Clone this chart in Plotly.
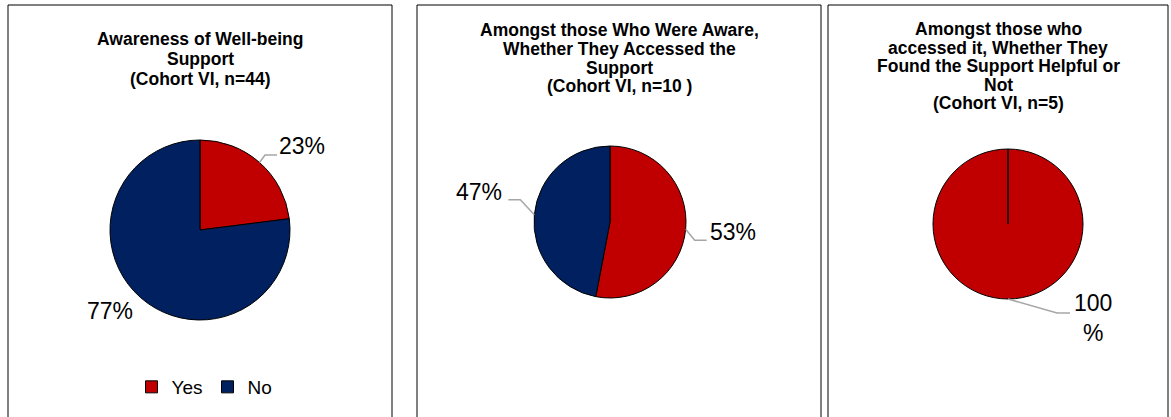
import math
import plotly.graph_objects as go

# ---------------- data ----------------
slice_labels = ["Yes", "No"]
values_aware = [23, 77]        # Awareness of Well-being Support (n=44)
values_accessed = [53, 47]     # Amongst aware, accessed support (n=10)
values_helpful = [100, 0]      # Amongst accessed, found helpful (n=5)

titles = [
    ["Awareness of Well-being", "Support", "(Cohort VI, n=44)"],
    ["Amongst those Who Were Aware,", "Whether They Accessed the", "Support",
     "(Cohort VI, n=10 )"],
    ["Amongst those who", "accessed it, Whether They", "Found the Support Helpful or",
     "Not", "(Cohort VI, n=5)"],
]

# ---------------- styles / layout ----------------
W, H = 1171, 417
FONT = "Liberation Sans, Arial, sans-serif"
RED, NAVY, YELLOW = "#C00000", "#002060", "#FFFF00"
LEADER = "#A6A6A6"

panels = [
    dict(values=values_aware, colors=[RED, NAVY], box=(8, 392),
         pie=(200, 230, 90), title_y=39.5, title_step=19.6, legend=(204.5, 387),
         # per-slice label style: (elbow dx, elbow dy, run, text dx, text dy, wrap)
         lab=[(5.5, -7.5, 12, 25, -9, False), (0, 0, 0, -30.5, 13.5, False)]),
    dict(values=values_accessed, colors=[RED, NAVY], box=(417, 821),
         pie=(610, 222, 76), title_y=30, title_step=18.8, legend=(622.6, 387),
         lab=[(9, 11, 12, 26, -8, False), (-14, -15, -12, -29, -8, False)]),
    dict(values=values_helpful, colors=[RED, YELLOW], box=(828, 1168),
         pie=(1008, 224, 75), title_y=29, title_step=18.6, legend=(1009, 384),
         lab=[(49, 14, 13, 23, 5, True), None]),
]

def px(x):
    return x / W

def py(y):
    return 1 - y / H

fig = go.Figure()
shapes = []
annotations = []

for k, p in enumerate(panels):
    cx, cy, r = p["pie"]
    legend_name = "legend" if k == 0 else f"legend{k + 1}"
    fig.add_trace(go.Pie(
        labels=slice_labels,
        values=p["values"],
        marker=dict(colors=p["colors"], line=dict(color="black", width=1)),
        sort=False,
        direction="clockwise",
        rotation=0,
        textinfo="none",
        domain=dict(x=[px(cx - r), px(cx + r)], y=[py(cy + r), py(cy - r)]),
        legend=legend_name,
        showlegend=True,
    ))

    # panel border
    x0, x1 = p["box"]
    shapes.append(dict(type="rect", xref="paper", yref="paper",
                       x0=px(x0), x1=px(x1), y0=-0.05, y1=py(5),
                       line=dict(color="black", width=1), fillcolor="rgba(0,0,0,0)"))

    # title lines
    tx = (x0 + x1) / 2
    for i, line in enumerate(titles[k]):
        annotations.append(dict(
            text=f"<b>{line}</b>", xref="paper", yref="paper",
            x=px(tx), y=py(p["title_y"] + i * p["title_step"]),
            xanchor="center", yanchor="middle", showarrow=False,
            font=dict(family=FONT, size=17.5, color="black")))

    # data labels with leader lines, positioned from slice mid-angles
    vals = p["values"]
    total = sum(vals)
    cum = 0
    for v, st in zip(vals, p["lab"]):
        frac_mid = (cum + v / 2) / total
        cum += v
        if st is None or v == 0:
            continue
        ang = 2 * math.pi * frac_mid
        ex = cx + r * math.sin(ang)
        ey = cy - r * math.cos(ang)
        edx, edy, run, tdx, tdy, wrap = st
        if run != 0:
            bx, by = ex + edx, ey + edy
            fx = bx + run
            shapes.append(dict(type="path", xref="paper", yref="paper",
                               path=f"M {px(ex)},{py(ey)} L {px(bx)},{py(by)} L {px(fx)},{py(by)}",
                               line=dict(color=LEADER, width=1.5)))
            lx, ly = fx + tdx, by + tdy
        else:
            lx, ly = ex + tdx, ey + tdy
        pct = f"{round(v / total * 100)}%"
        if wrap:
            pct = pct[:-1] + "<br>%"
        annotations.append(dict(
            text=pct, xref="paper", yref="paper", x=px(lx), y=py(ly),
            xanchor="center", yanchor="middle", showarrow=False,
            font=dict(family=FONT, size=23, color="black")))

legend_common = dict(orientation="h", xanchor="center", yanchor="middle",
                     font=dict(family=FONT, size=19, color="black"),
                     bgcolor="rgba(0,0,0,0)", itemclick=False, itemdoubleclick=False)
layout_legends = {}
for k, p in enumerate(panels):
    name = "legend" if k == 0 else f"legend{k + 1}"
    lx, ly = p["legend"]
    layout_legends[name] = dict(legend_common, x=px(lx), y=py(ly))

fig.update_layout(
    width=W, height=H,
    margin=dict(l=0, r=0, t=0, b=0),
    paper_bgcolor="white", plot_bgcolor="white",
    font=dict(family=FONT, color="black"),
    shapes=shapes, annotations=annotations,
    **layout_legends,
)

fig.write_html("out.html",
               config={"displayModeBar": False},
               post_script="document.body.style.margin='0';document.body.style.overflow='hidden';")
